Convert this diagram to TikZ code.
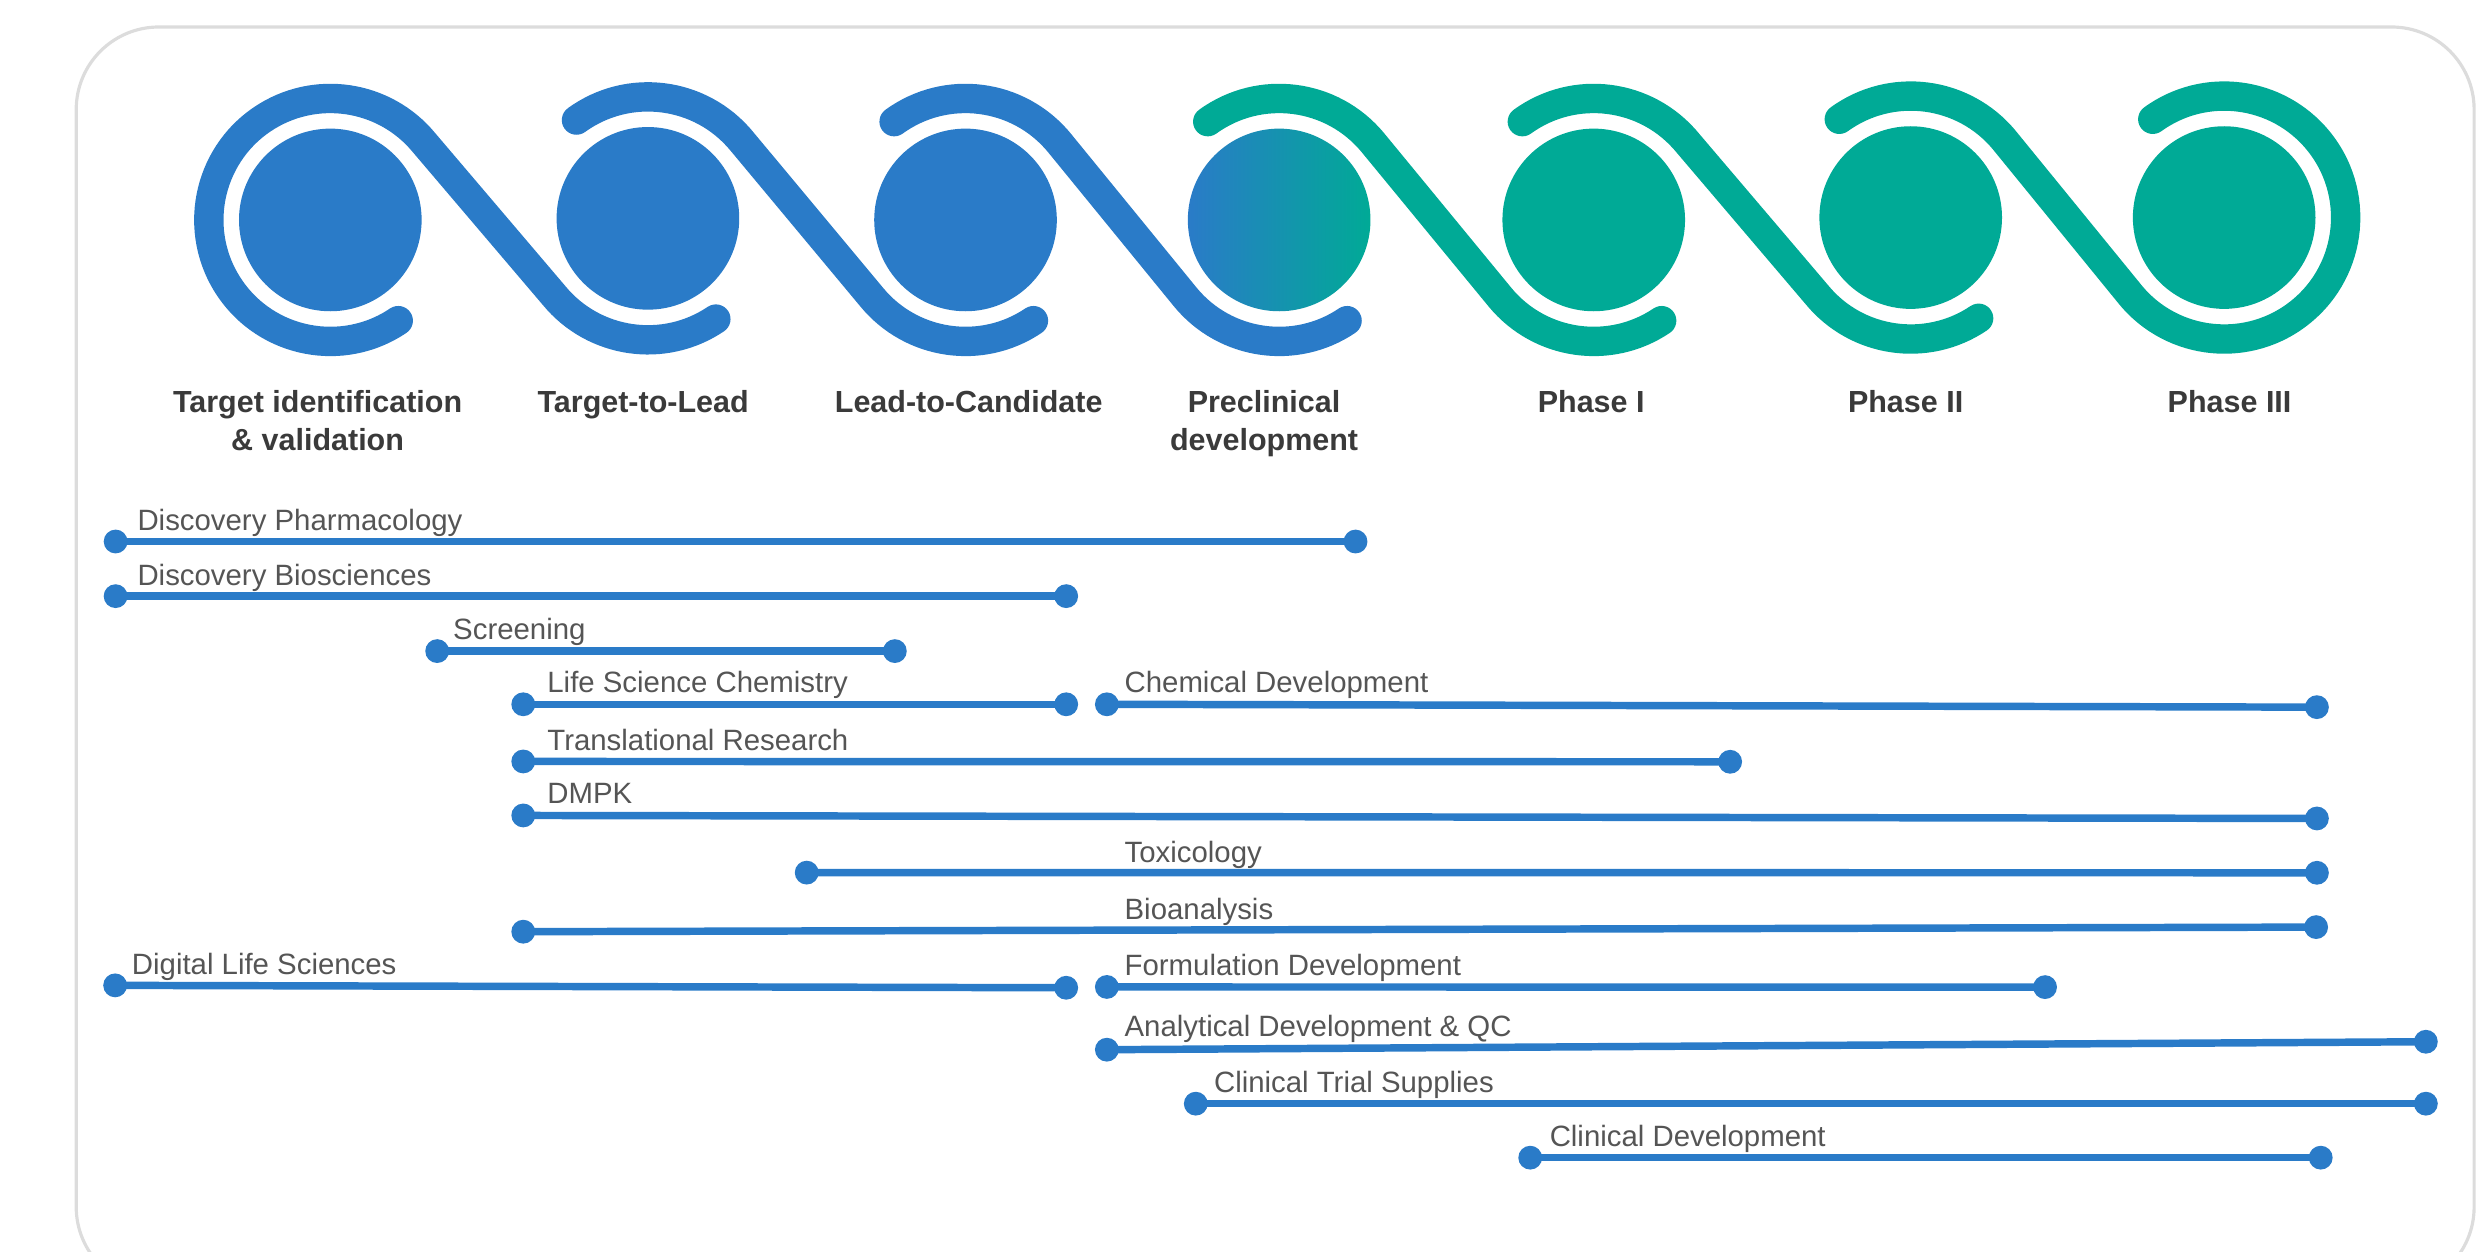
\documentclass[tikz,border=0pt]{standalone}
\usepackage{fontspec}
\setmainfont{Liberation Sans}
\usetikzlibrary{calc}
\definecolor{myblue}{HTML}{2A7BC8}
\definecolor{myteal}{HTML}{00AA96}
\definecolor{boxgray}{HTML}{DCDCDC}
\definecolor{txtdark}{HTML}{3A3A3A}
\definecolor{txtgray}{HTML}{555555}
\def\rr{76.5}
\begin{document}
\begin{tikzpicture}[x=1bp,y=1bp,
  phase/.style={circle, inner sep=0pt, minimum size=115bp, fill=myblue},
  ribbon/.style={line width=18.5bp, line cap=round},
  bar/.style={line width=4.7bp, draw=myblue},
  dot/.style={circle, fill=myblue, inner sep=0pt, minimum size=15bp},
  lbl/.style={anchor=base west, inner sep=0pt, text=txtgray, font=\fontsize{18.5bp}{22bp}\selectfont},
  stage/.style={anchor=base, inner sep=0pt, align=center, text=txtdark, font=\fontsize{19.2bp}{23.8bp}\selectfont\bfseries}]
\useasboundingbox (0,0) rectangle (1568,-788.4);
\clip (0,0) rectangle (1568,-788.4);
\draw[line width=2bp, boxgray, rounded corners=52bp] (48,-17) rectangle (1558,-812);

% phase circles
\node[phase] (p1) at (208,-138.5) {};
\node[phase] (p2) at (408,-137.5) {};
\node[phase] (p3) at (608,-138.5) {};
\node[phase, fill=none, left color=myblue, right color=myteal] (p4) at (805.5,-138.5) {};
\node[phase, fill=myteal] (p5) at (1003.6,-138.5) {};
\node[phase, fill=myteal] (p6) at (1203.2,-137) {};
\node[phase, fill=myteal] (p7) at (1400.6,-137) {};

% helix ribbons
\draw[ribbon, myblue] ([shift={(304:\rr)}]p1.center) arc[start angle=304, end angle=39.5, radius=\rr]
   -- ([shift={(219.5:\rr)}]p2.center) arc[start angle=219.5, end angle=304, radius=\rr];
\foreach \i/\j/\c in {2/3/myblue,3/4/myblue,4/5/myteal,5/6/myteal}{
  \draw[ribbon, \c] ([shift={(126:\rr)}]p\i.center) arc[start angle=126, end angle=39.5, radius=\rr]
   -- ([shift={(219.5:\rr)}]p\j.center) arc[start angle=219.5, end angle=304, radius=\rr];
}
\draw[ribbon, myteal] ([shift={(126:\rr)}]p6.center) arc[start angle=126, end angle=39.5, radius=\rr]
   -- ([shift={(219.5:\rr)}]p7.center) arc[start angle=219.5, end angle=486, radius=\rr];

% stage labels (two-line nodes are anchored at the baseline of their last line)
\node[stage] (s1) at (200,-283.8) {Target identification\\\& validation};
\node[stage] (s2) at (405,-260) {Target-to-Lead};
\node[stage] (s3) at (610,-260) {Lead-to-Candidate};
\node[stage] (s4) at (796,-283.8) {Preclinical\\development};
\node[stage] (s5) at (1002,-260) {Phase I};
\node[stage] (s6) at (1200,-260) {Phase II};
\node[stage] (s7) at (1404,-260) {Phase III};

% activity bars
\foreach \n/\xa/\ya/\xb/\yb/\lx/\ly/\t in {
  dp/72.8/341/853.6/341/86.4/334/Discovery Pharmacology,
  db/72.8/375.4/671.4/375.4/86.4/368.4/Discovery Biosciences,
  sc/275.3/410/563.5/410/285.2/402.5/Screening,
  lsc/329.5/443.5/671.4/443.5/344.5/436.3/Life Science Chemistry,
  cd/697/443.5/1459/445.3/708/436.3/Chemical Development,
  tr/329.5/479.5/1089.5/479.7/344.5/472.3/Translational Research,
  dm/329.5/513.5/1459/515.4/344.5/506/DMPK,
  tx/508/549.5/1459/549.6/708/543/Toxicology,
  ba/329.5/586.7/1458.5/583.8/708/579/Bioanalysis,
  dl/72.5/620.5/671.4/622/82.9/613.5/Digital Life Sciences,
  fd/697/621.5/1287.8/621.6/708/614.5/Formulation Development,
  ad/697/661/1527.6/656/708/653/Analytical Development \& QC,
  ct/753/695/1527.6/695/764.3/688/Clinical Trial Supplies,
  cl/963.6/729/1461.4/729/975.7/722/Clinical Development}{
  \node[dot] (\n A) at (\xa,-\ya) {};
  \node[dot] (\n B) at (\xb,-\yb) {};
  \draw[bar] (\n A.center) -- (\n B.center);
  \node[lbl] (\n L) at (\lx,-\ly) {\t};
}
\end{tikzpicture}
\end{document}
